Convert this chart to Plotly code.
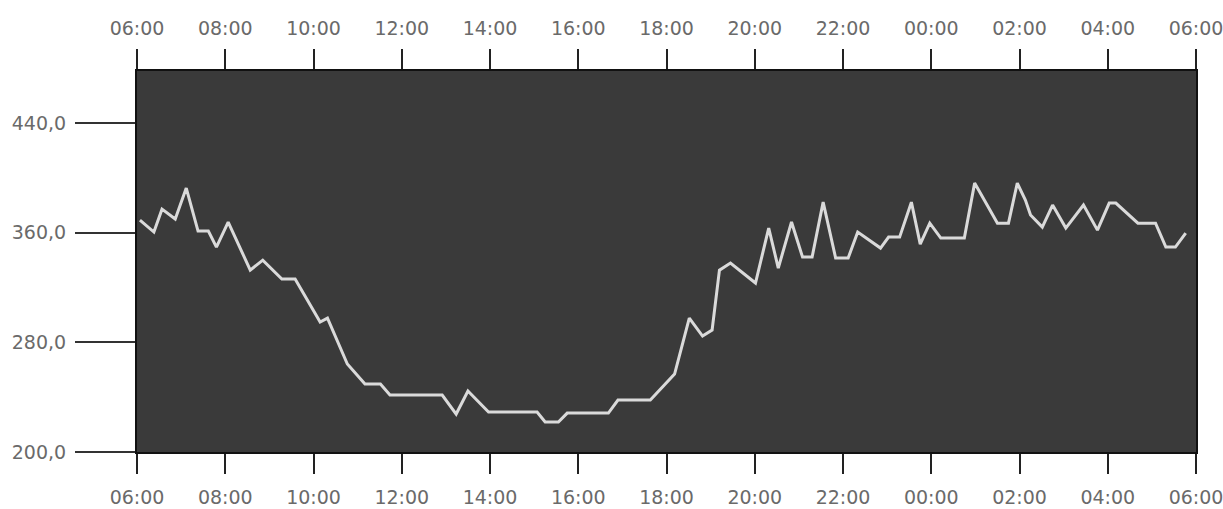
import plotly.graph_objects as go
import pandas as pd

# Clock times (starting 06:00, running through the night to 06:00 next day)
times = [
    "06:04", "06:23", "06:34", "06:52", "07:07", "07:23", "07:37", "07:48",
    "08:04", "08:34", "08:51", "09:17", "09:35", "10:09", "10:19", "10:46",
    "11:10", "11:31", "11:44", "12:55", "13:14", "13:30", "13:58", "15:04",
    "15:15", "15:33", "15:45", "16:41", "16:54", "17:38", "18:11", "18:31",
    "18:49", "19:02", "19:12", "19:27", "20:01", "20:19", "20:32", "20:50",
    "21:05", "21:18", "21:33", "21:50", "22:07", "22:20", "22:51", "23:02",
    "23:17", "23:33", "23:45", "23:58", "00:13", "00:45", "00:59", "01:30",
    "01:45", "01:57", "02:08", "02:15", "02:31", "02:45", "03:03", "03:27",
    "03:46", "04:02", "04:11", "04:41", "05:05", "05:19", "05:32", "05:46",
]
values = [
    369.2, 360.5, 377.2, 370.0, 392.6, 361.2, 361.2, 349.5,
    367.8, 332.7, 340.0, 326.2, 326.2, 294.8, 297.7, 264.2,
    249.6, 249.6, 241.6, 241.6, 227.7, 244.5, 229.2, 229.2,
    221.9, 221.9, 228.4, 228.4, 237.9, 237.9, 256.9, 297.7,
    284.6, 289.0, 332.7, 337.9, 323.3, 363.4, 334.2, 367.8,
    342.2, 342.2, 382.3, 341.5, 341.5, 360.5, 348.8, 356.8,
    356.8, 382.3, 351.7, 367.0, 356.1, 356.1, 396.2, 367.0,
    367.0, 396.2, 383.8, 372.9, 364.1, 380.2, 363.4, 380.2,
    361.9, 381.6, 381.6, 367.0, 367.0, 349.5, 349.5, 359.7,
]
y_ticks = [200, 280, 360, 440]

base = pd.Timestamp("2000-01-01")
x_start = base + pd.Timedelta(hours=6)
x_end = base + pd.Timedelta(days=1, hours=6)


def to_dt(s):
    h, m = map(int, s.split(":"))
    d = 1 if h < 6 else 0
    return base + pd.Timedelta(days=d, hours=h, minutes=m)


x = [to_dt(t) for t in times]

FONT = dict(family="DejaVu Sans", size=19, color="#6a6a6a")

fig = go.Figure()
fig.add_trace(go.Scatter(
    x=x, y=values, mode="lines",
    line=dict(color="#dadada", width=3),
    showlegend=False, hoverinfo="x+y",
))
fig.add_trace(go.Scatter(
    x=x, y=values, xaxis="x2", mode="lines",
    line=dict(width=0), opacity=0, showlegend=False, hoverinfo="skip",
))

xcommon = dict(
    type="date", range=[x_start, x_end], tick0=x_start, dtick=7200000,
    tickformat="%H:%M", ticks="outside", ticklen=20, tickwidth=2,
    tickcolor="#222222", showline=True, linecolor="#111111", linewidth=2,
    showgrid=False, zeroline=False, tickfont=FONT,
    automargin=False, ticklabeloverflow="allow",
)

fig.update_layout(
    template="none",
    width=1223, height=509,
    margin=dict(l=137, r=27, t=71, b=57, pad=0),
    paper_bgcolor="white", plot_bgcolor="#3a3a3a",
    separators=",.",
    xaxis=dict(**xcommon, side="bottom", ticklabelstandoff=7),
    xaxis2=dict(**xcommon, side="top", overlaying="x", anchor="y",
                ticklabelstandoff=6),
    yaxis=dict(
        range=[200, 478], tickvals=y_ticks, tickformat=".1f",
        ticks="outside", ticklen=60, tickwidth=2, tickcolor="#333333",
        showline=True, mirror=True, linecolor="#111111", linewidth=2,
        showgrid=False, zeroline=False, tickfont=FONT, ticklabelstandoff=5,
        automargin=False,
    ),
)

fig.write_html(
    "out.html",
    config={"displayModeBar": False},
    post_script="document.body.style.margin='0';document.body.style.overflow='hidden';",
)
